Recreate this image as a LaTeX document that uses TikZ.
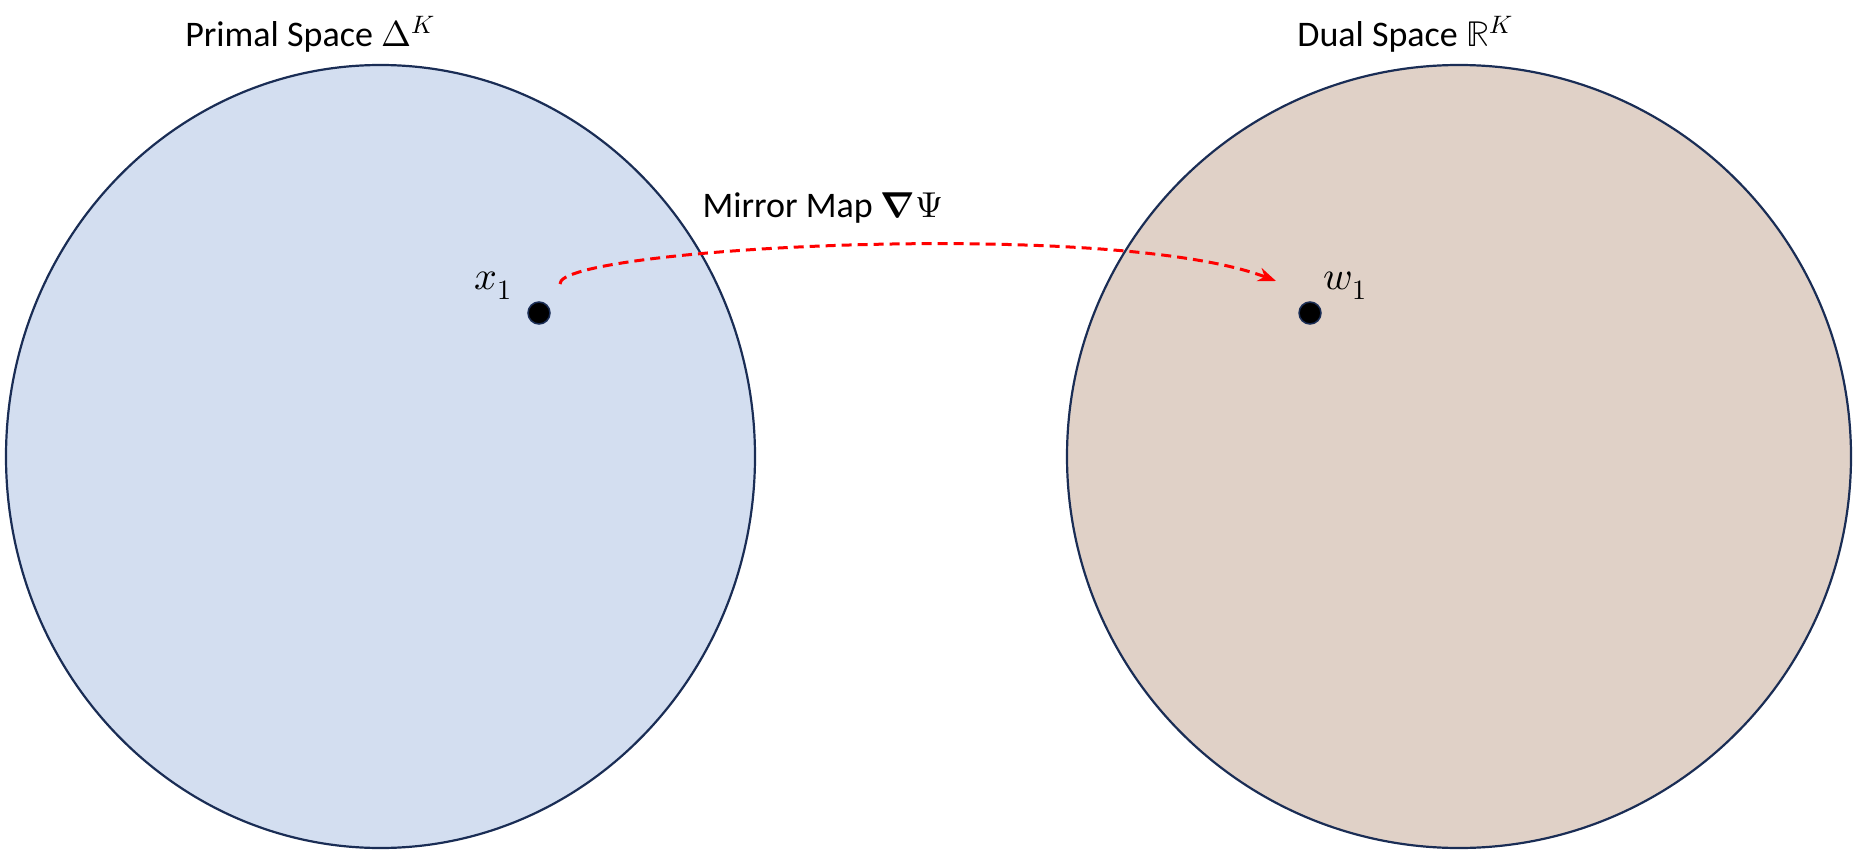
\documentclass[tikz,border=0pt]{standalone}
\usepackage{fontspec}
\usepackage{unicode-math}
\setmainfont{Carlito}
\setmathfont{Latin Modern Math}
\usetikzlibrary{arrows.meta,shapes.geometric}
\definecolor{primalfill}{HTML}{D3DEF0}
\definecolor{dualfill}{HTML}{E0D1C7}
\definecolor{edge}{HTML}{1A2D55}
\definecolor{arrowred}{HTML}{FF0000}
\tikzset{
  space/.style={ellipse, draw=edge, line width=2.2pt, inner sep=0pt},
  dotnode/.style={circle, fill=black, draw=edge, line width=1.5pt, minimum size=22pt, inner sep=0pt},
  lbl/.style={font=\fontsize{36}{44}\selectfont, inner sep=0pt},
  mathlbl/.style={font=\fontsize{40}{48}\selectfont, inner sep=0pt},
  mirrorarrow/.style={draw=arrowred, line width=3pt, dash pattern=on 10pt off 6pt, -{Stealth[length=18pt,width=14pt]}}
}
\begin{document}
\begin{tikzpicture}[x=1pt,y=-1pt]
\useasboundingbox (0,0) rectangle (1855,853);
\node[space, fill=primalfill, minimum width=749pt, minimum height=783pt] (primal) at (380.5,456.5) {};
\node[space, fill=dualfill, minimum width=784pt, minimum height=783pt] (dual) at (1459,456.5) {};
\node[lbl] (primallbl) at (310,34) {Primal Space $\mupDelta^{K}$};
\node[lbl] (duallbl) at (1405,34) {Dual Space $\mathbb{R}^{K}$};
\node[lbl] (mirrorlbl) at (823,208) {Mirror Map $\symbf{\nabla}\mupPsi$};
\node[dotnode] (x1) at (539,313) {};
\node[dotnode] (w1) at (1310,313) {};
\node[mathlbl] (x1lbl) at (493,286) {$x_1$};
\node[mathlbl] (w1lbl) at (1345,286) {$w_1$};
\coordinate (arrstart) at (560,284);
\coordinate (arrend) at (1276,281);
\draw[mirrorarrow] (arrstart) .. controls (556,248) and (1110,218) .. (arrend);
\end{tikzpicture}
\end{document}
